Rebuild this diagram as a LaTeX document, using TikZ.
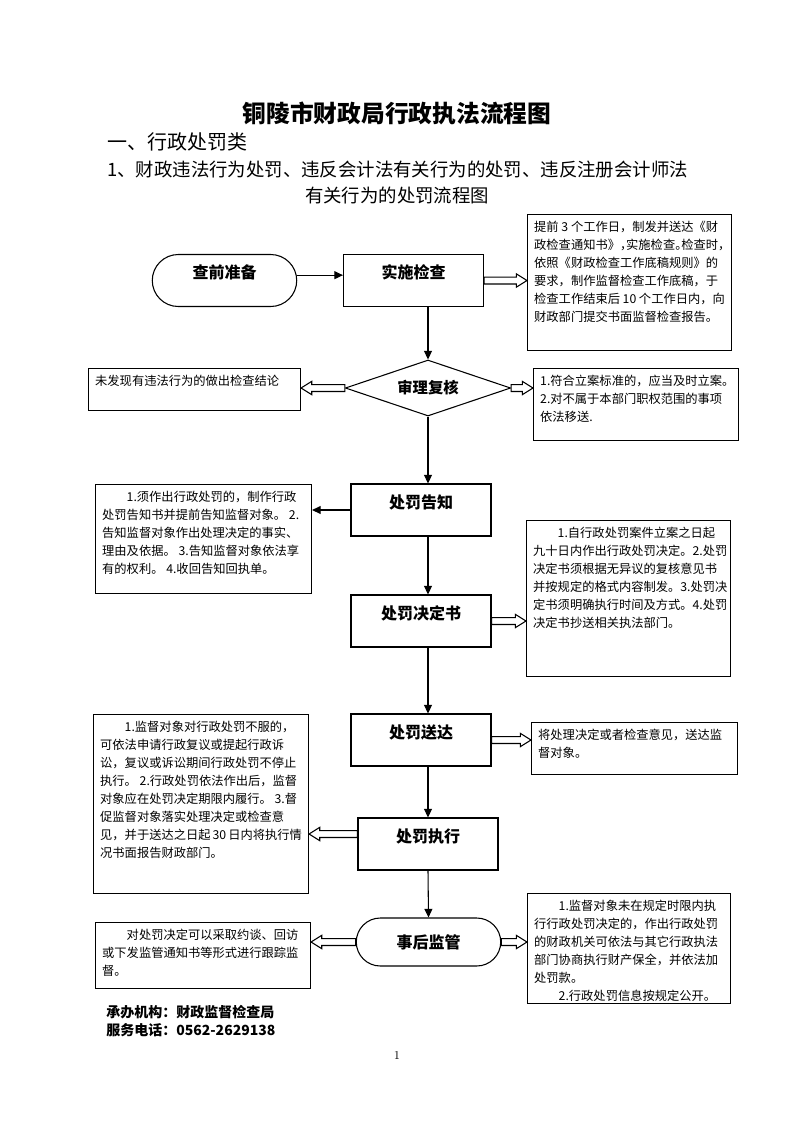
\documentclass[tikz,border=0pt]{standalone}
\usepackage{fontspec}
\newfontfamily\cjk{Noto Sans CJK SC}
\usetikzlibrary{shapes.geometric,shapes.misc,arrows.meta,calc}
\newdimen\pxu \pxu=0.75pt
\newcommand\notetext[3]{\parbox[c][\dimexpr#2\pxu-10pt\relax][t]{\dimexpr#1\pxu-10pt\relax}{#3}}
\newcommand\hp[1]{\makebox[.5em][l]{#1}}
\newcommand\hollowarrow[2]{%
  \draw [thick,fill=white] let \p1=#1, \p2=#2, \p3=($#2!8pt!#1$) in
    (\x1,\y1+2.6pt) -- (\x3,\y1+2.6pt) -- (\x3,\y1+5pt) -- (\x2,\y2)
    -- (\x3,\y1-5pt) -- (\x3,\y1-2.6pt) -- (\x1,\y1-2.6pt) -- cycle;}
\begin{document}
\begin{tikzpicture}[x=0.75pt,y=-0.75pt,
    proc/.style={draw, thick, minimum width=105pt, minimum height=39pt,
      text height=9pt, text depth=11.8pt, font=\cjk\bfseries\fontsize{12}{14}\selectfont},
    term/.style={rounded rectangle, draw, thick, minimum width=115pt,
      font=\cjk\bfseries\fontsize{12}{14}\selectfont},
    note/.style={draw, thick, anchor=north west, inner sep=5pt,
      font=\cjk\fontsize{9.2}{13.5}\selectfont},
    txt/.style={inner sep=0pt},
    flow/.style={thick, -{Triangle[length=6.5pt,width=6pt]}}]
  \useasboundingbox (0,0) rectangle (794,1122);

  \node [txt, font=\cjk\bfseries\fontsize{17.8}{20}\selectfont] (title) at (397,113) {铜陵市财政局行政执法流程图};
  \node [txt, anchor=west, font=\cjk\fontsize{15}{18}\selectfont] (sec) at (107,142) {一、行政处罚类};
  \node [txt, anchor=west, font=\cjk\fontsize{13.8}{16}\selectfont] (sub1) at (107,170) {1、财政违法行为处罚、违反会计法有关行为的处罚、违反注册会计师法};
  \node [txt, font=\cjk\fontsize{13.8}{16}\selectfont] (sub2) at (397,195) {有关行为的处罚流程图};

  \node [term, minimum height=39pt, text height=9pt, text depth=11.8pt] (prep) at (224.5,280.5) {查前准备};
  \node [proc] (chk) at (413.5,280.5) {实施检查};
  \node [diamond, draw, thick, aspect=3, inner sep=0pt, minimum width=124pt, minimum height=42pt,
    font=\cjk\bfseries\fontsize{11.5}{13}\selectfont] (rev) at (428,388) {审理复核};
  \node [proc] (ntc) at (421,510) {处罚告知};
  \node [proc] (dec) at (421,621) {处罚决定书};
  \node [proc] (dlv) at (421,740) {处罚送达};
  \node [proc] (exe) at (428,844) {处罚执行};
  \node [term, minimum height=36pt] (sup) at (428.5,942) {事后监管};

  \node [note] (b1) at (527,214) {\notetext{204}{136}{%
    提前~3~个工作日，制发并送达《财\\
    政检查通知书》\hp{，}实施检查\hp{。}检查时\hp{，}\\
    依照《财政检查工作底稿规则》的\\
    要求，制作监督检查工作底稿，于\\
    检查工作结束后~10~个工作日内，向\\
    财政部门提交书面监督检查报告。}};
  \node [note] (bL1) at (88,368) {\notetext{212}{42}{%
    未发现有违法行为的做出检查结论}};
  \node [note] (bR2) at (533,368) {\notetext{205}{72}{%
    1.符合立案标准的，应当及时立案。\\
    2.对不属于本部门职权范围的事项\\
    依法移送.}};
  \node [note] (bL3) at (95,484) {\notetext{216}{109}{%
    \hspace*{2em}1.须作出行政处罚的，制作行政\\
    处罚告知书并提前告知监督对象。~2.\\
    告知监督对象作出处理决定的事实、\\
    理由及依据。~3.告知监督对象依法享\\
    有的权利。~4.收回告知回执单。}};
  \node [note] (bR4) at (526,520) {\notetext{204}{156}{%
    \hspace*{2em}1.自行政处罚案件立案之日起\\
    九十日内作出行政处罚决定。2.处罚\\
    决定书须根据无异议的复核意见书\\
    并按规定的格式内容制发。3.处罚决\\
    定书须明确执行时间及方式。4.处罚\\
    决定书抄送相关执法部门。}};
  \node [note] (bR5) at (531,722) {\notetext{206}{52}{%
    将处理决定或者检查意见，送达监\\
    督对象。}};
  \node [note] (bL6) at (93,714) {\notetext{215}{179}{%
    \hspace*{2em}1.监督对象对行政处罚不服的，\\
    可依法申请行政复议或提起行政诉\\
    讼，复议或诉讼期间行政处罚不停止\\
    执行。~2.行政处罚依法作出后，监督\\
    对象应在处罚决定期限内履行。~3.督\\
    促监督对象落实处理决定或检查意\\
    见，并于送达之日起~30~日内将执行情\\
    况书面报告财政部门。}};
  \node [note] (bL7) at (95,922) {\notetext{215}{66}{%
    \hspace*{2em}对处罚决定可以采取约谈、回访\\
    或下发监管通知书等形式进行跟踪监\\
    督。}};
  \node [note] (bR9) at (527,893) {\notetext{203}{110}{%
    \hspace*{2em}1.监督对象未在规定时限内执\\
    行行政处罚决定的，作出行政处罚\\
    的财政机关可依法与其它行政执法\\
    部门协商执行财产保全，并依法加\\
    处罚款。\\
    \hspace*{2em}2.行政处罚信息按规定公开。}};

  \coordinate (axis) at (428,0);
  \coordinate (exeL) at ([yshift=7.5pt]exe.west);
  \draw [flow] ([yshift=4pt]prep.east) -- ([yshift=4pt]chk.west);
  \draw [flow] (chk.south -| axis) -- (rev.north);
  \draw [flow] (rev.south) -- (ntc.north -| axis);
  \draw [flow] (ntc.west) -- (ntc.west -| bL3.east);
  \draw [flow] (ntc.south -| axis) -- (dec.north -| axis);
  \draw [flow] (dec.south -| axis) -- (dlv.north -| axis);
  \draw [flow] (dlv.south -| axis) -- (exe.north);
  \draw [flow] (exe.south) -- (sup.north);

  \hollowarrow{(chk.east)}{(chk.east -| b1.west)}
  \hollowarrow{(rev.west)}{(rev.west -| bL1.east)}
  \hollowarrow{(rev.east)}{(rev.east -| bR2.west)}
  \hollowarrow{(dec.east)}{(dec.east -| bR4.west)}
  \hollowarrow{(dlv.east)}{(dlv.east -| bR5.west)}
  \hollowarrow{(exeL)}{(exeL -| bL6.east)}
  \hollowarrow{(sup.west)}{(sup.west -| bL7.east)}
  \hollowarrow{(sup.east)}{(sup.east -| bR9.west)}

  \node [txt, anchor=west, font=\cjk\bfseries\fontsize{10.5}{12}\selectfont] (org) at (106,1012) {承办机构：财政监督检查局};
  \node [txt, anchor=west, font=\cjk\bfseries\fontsize{10.5}{12}\selectfont] (tel) at (106,1030) {服务电话：0562-2629138};
  \node [txt, font=\fontsize{9}{10}\selectfont] (pg) at (397,1055) {1};
\end{tikzpicture}
\end{document}
